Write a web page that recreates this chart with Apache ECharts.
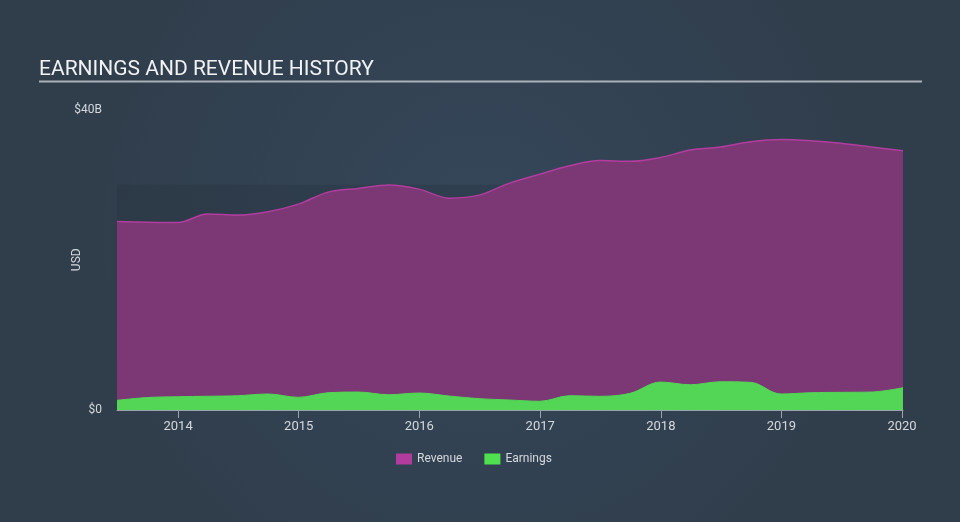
<!DOCTYPE html>
<html>
<head>
<meta charset="utf-8">
<script src="https://cdn.jsdelivr.net/npm/echarts@6/dist/echarts.min.js"></script>
<style>
html,body{margin:0;padding:0;}
#chart{width:960px;height:522px;}
</style>
</head>
<body>
<div id="chart"></div>
<script>
const dates = ['2013-06-30','2013-09-30','2013-12-31','2014-03-31','2014-06-30','2014-09-30','2014-12-31',
  '2015-03-31','2015-06-30','2015-09-30','2015-12-31','2016-03-31','2016-06-30','2016-09-30','2016-12-31',
  '2017-03-31','2017-06-30','2017-09-30','2017-12-31','2018-03-31','2018-06-30','2018-09-30','2018-12-31',
  '2019-03-31','2019-06-30','2019-09-30','2020-01-04'];
const revenue = [25.1,25.0,24.95,26.1,25.95,26.4,27.4,29.0,29.5,29.95,29.4,28.2,28.6,30.2,31.4,32.5,33.2,33.1,33.6,34.6,35.0,35.7,36.0,35.85,35.5,35.0,34.5];
const earnings = [1.29,1.66,1.77,1.83,1.90,2.13,1.69,2.30,2.39,2.03,2.26,1.86,1.51,1.33,1.16,1.90,1.82,2.22,3.72,3.36,3.76,3.68,2.13,2.30,2.35,2.39,2.96];
const yTicks = [0, 40];
const bandTop = 30;

const B = 1e9;
const revData = dates.map((d,i)=>[d, revenue[i]*B]);
const earnData = dates.map((d,i)=>[d, earnings[i]*B]);

const chart = echarts.init(document.getElementById('chart'), null, {renderer:'canvas'});
const font = 'Roboto, "Noto Sans", sans-serif';
chart.setOption({
  animation: false,
  backgroundColor: {
    type: 'radial', x: 0.5, y: 0.45, r: 0.8,
    colorStops: [{offset:0, color:'#35475a'},{offset:1, color:'#303d4b'}]
  },
  textStyle: {fontFamily: font},
  title: {
    text: 'EARNINGS AND REVENUE HISTORY',
    left: 34, top: 54,
    textStyle: {color:'#f0f2f4', fontSize: 21, fontWeight: 'normal', fontFamily: font}
  },
  graphic: [{
    type: 'line', shape: {x1: 39, y1: 81.5, x2: 922, y2: 81.5},
    style: {stroke: '#a9b0b7', lineWidth: 2}
  }],
  legend: {
    data: ['Revenue','Earnings'],
    bottom: 52, left: 391,
    icon: 'rect', itemWidth: 16, itemHeight: 11, itemGap: 22,
    textStyle: {color:'#d5d9dd', fontSize: 12, fontFamily: font}
  },
  grid: {left: 117, right: 57, top: 109.5, bottom: 112, containLabel: false},
  xAxis: {
    type: 'time',
    min: '2013-06-30', max: '2020-01-04',
    minInterval: 365*24*3600*1000,
    axisLine: {show: true, lineStyle: {color:'#9aa3ac', width: 1}},
    axisTick: {show: true, length: 8, lineStyle: {color:'#9aa3ac'}},
    axisLabel: {color:'#d5d9dd', fontSize: 13, margin: 10, formatter: '{yyyy}', showMinLabel: false, alignMaxLabel: 'right'},
    splitLine: {show: false}
  },
  yAxis: {
    type: 'value', min: yTicks[0]*B, max: yTicks[1]*B, interval: (yTicks[1]-yTicks[0])*B,
    name: 'USD', nameLocation: 'middle', nameGap: 34, nameRotate: 90, nameMoveOverlap: false,
    nameTextStyle: {color:'#d5d9dd', fontSize: 12},
    axisLine: {show: false}, axisTick: {show: false}, splitLine: {show: false},
    axisLabel: {color:'#d5d9dd', fontSize: 12, margin: 15,
      formatter: v => v === 0 ? '$0' : '$' + (v/B) + 'B'}
  },
  series: [
    {
      name: 'band', type: 'line', data: [], z: 1, silent: true,
      markArea: {
        silent: true,
        itemStyle: {color: 'rgba(30,40,52,0.22)'},
        data: [[{xAxis: dates[0], yAxis: 0}, {xAxis: dates[dates.length-1], yAxis: bandTop*B}]]
      }
    },
    {
      name: 'Revenue', type: 'line', data: revData, smooth: 0.35, symbol: 'none', z: 2,
      itemStyle: {color: '#b13c9d'},
      lineStyle: {color: '#b23d9f', width: 1.5},
      areaStyle: {color: '#7b3875', opacity: 1}
    },
    {
      name: 'Earnings', type: 'line', data: earnData, smooth: 0.35, symbol: 'none', z: 3,
      itemStyle: {color: '#4fe04f'},
      lineStyle: {color: '#53d655', width: 1},
      areaStyle: {color: '#53d655', opacity: 1}
    }
  ]
});
</script>
</body>
</html>
